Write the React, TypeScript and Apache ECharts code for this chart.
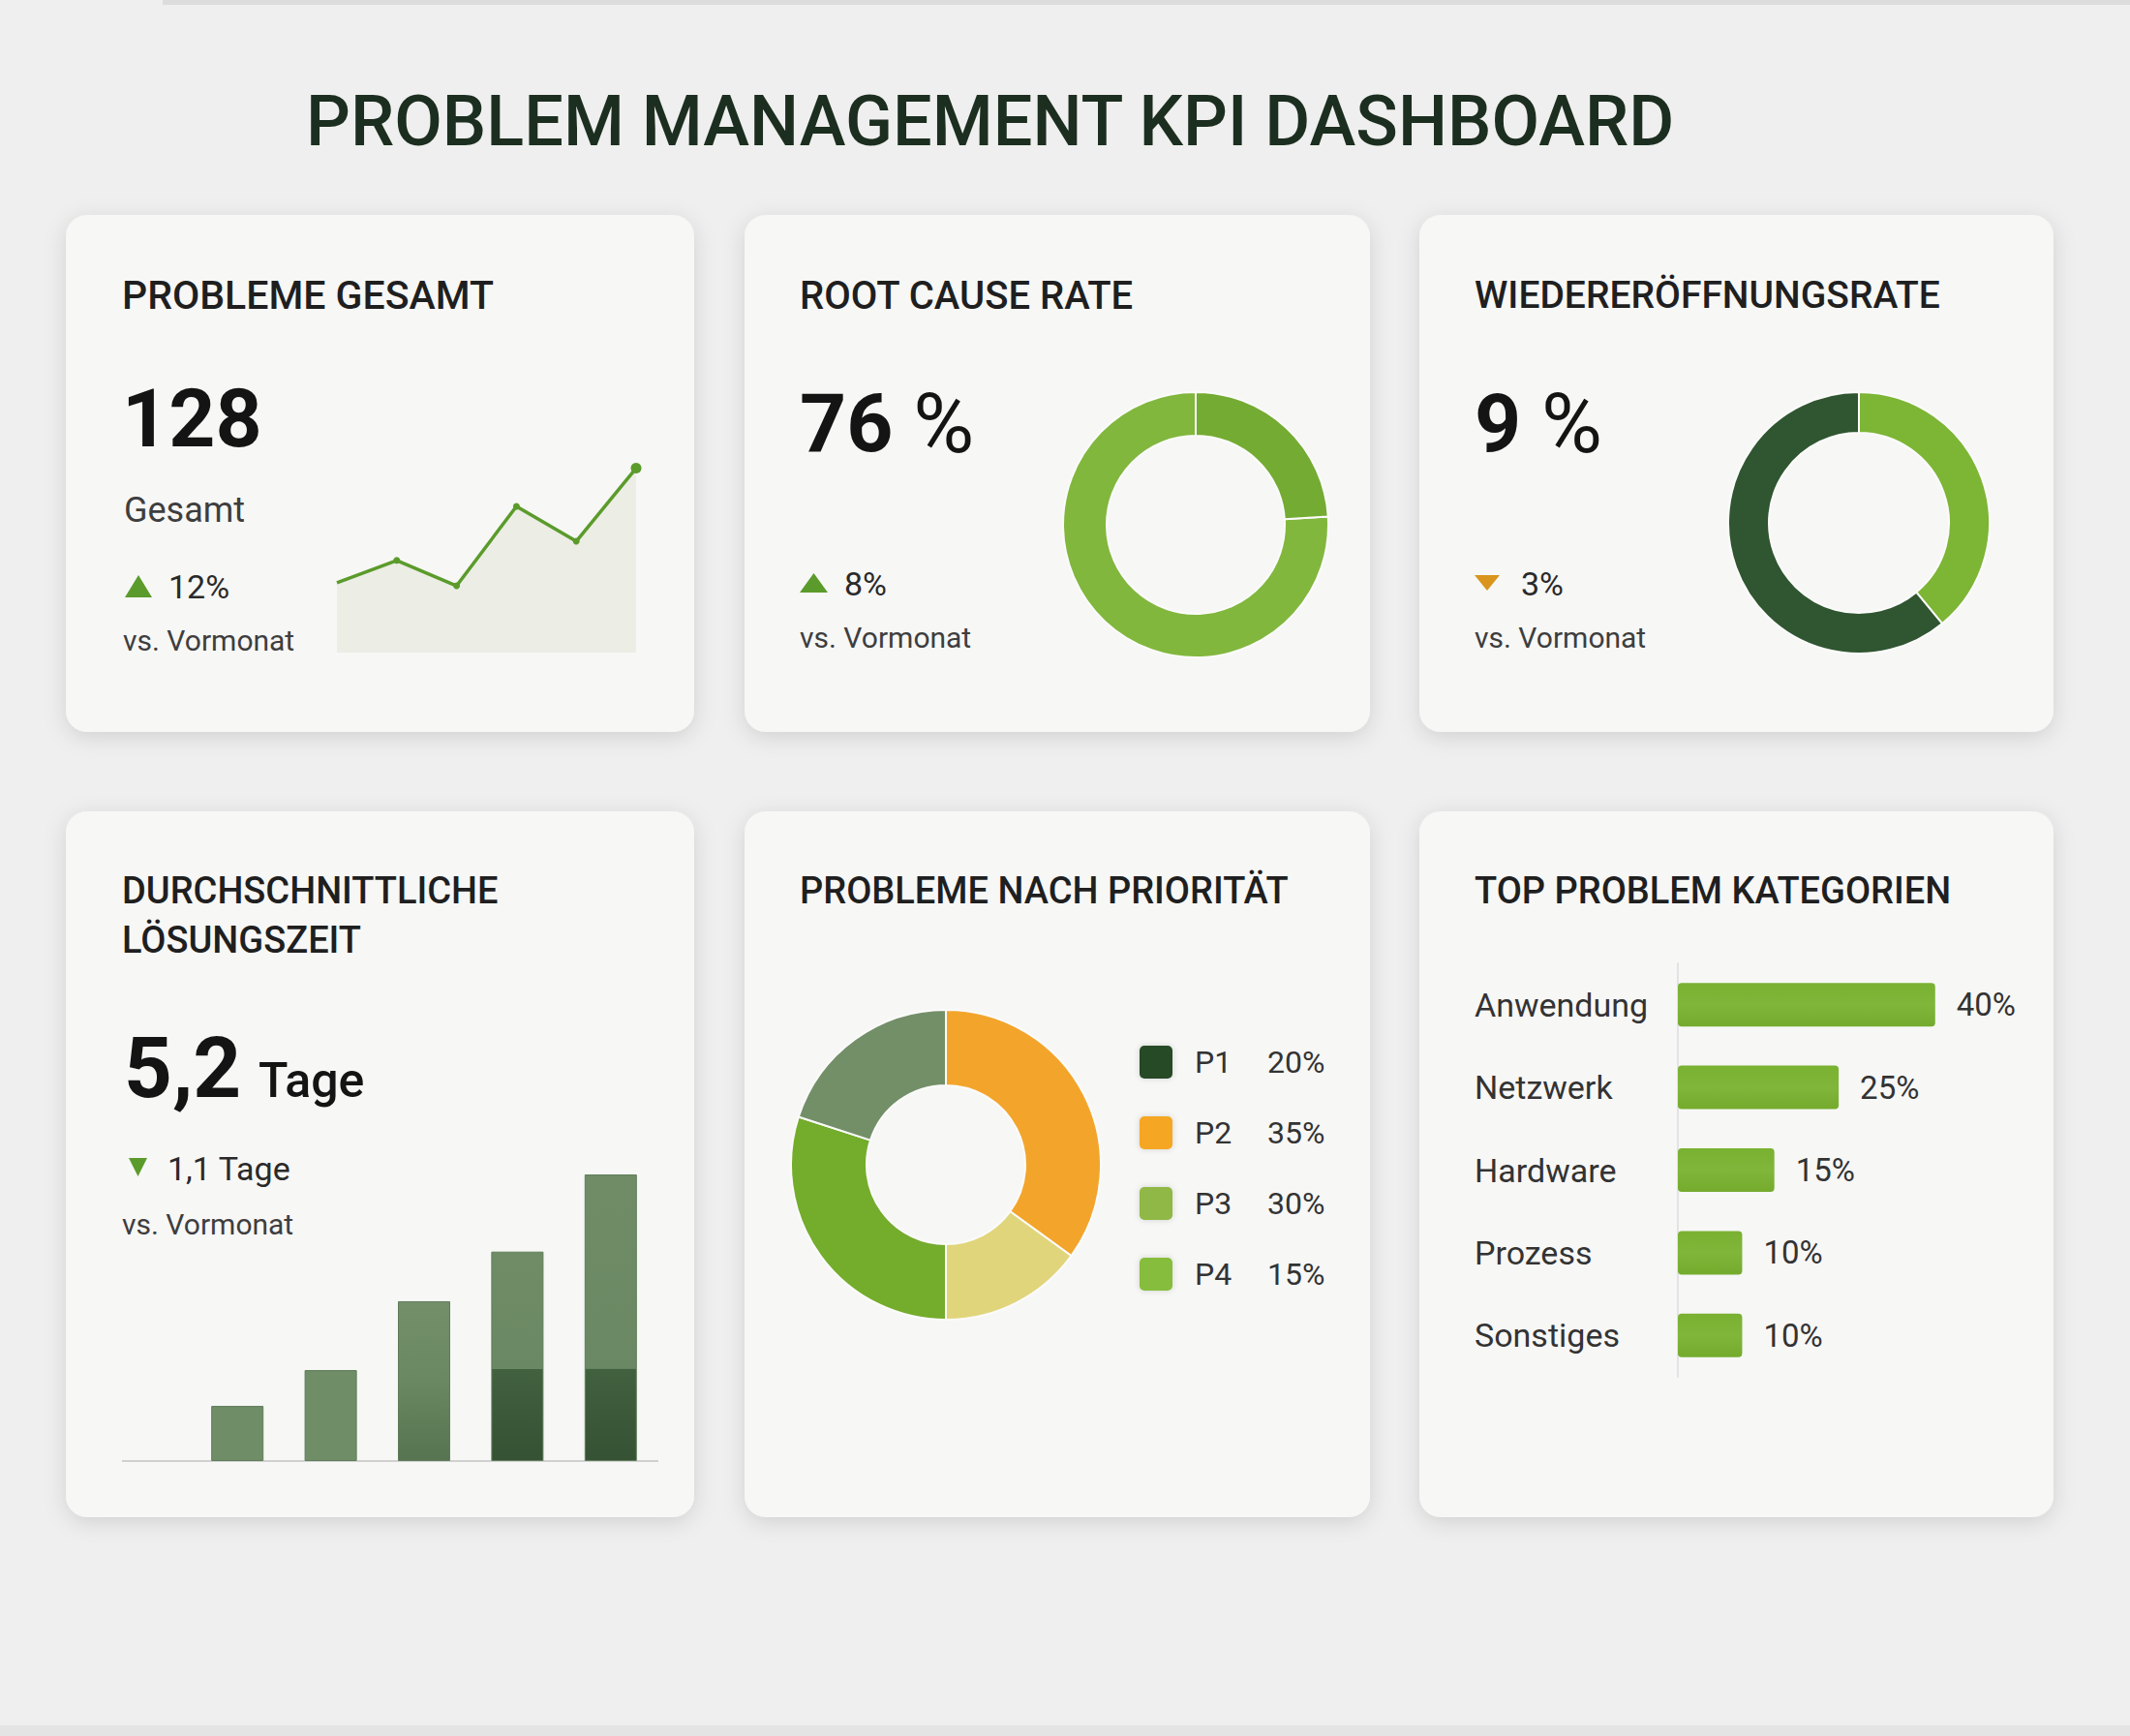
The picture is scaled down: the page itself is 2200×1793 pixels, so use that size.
import React, { useEffect, useRef } from "react";
import * as echarts from "echarts";

// ---- Data ----
const dashboardTitle = "PROBLEM MANAGEMENT KPI DASHBOARD";

const trendMonths = ["M1", "M2", "M3", "M4", "M5", "M6"];
const trendValues = [92, 99, 91, 116, 105, 128];

const rootCauseLabels = ["Mit Root Cause", "Ohne Root Cause"];
const rootCauseShares = [76, 24];

const reopenLabels = ["Anteil A", "Anteil B"];
const reopenShares = [39, 61];

const resolutionPeriods = ["Jan", "Feb", "Mär", "Apr", "Mai"];
const resolutionDays = [1.0, 1.65, 2.9, 3.8, 5.2];

const priorities = ["P1", "P2", "P3", "P4"];
const priorityShares = [20, 35, 30, 15];
// order in which the priority slices are drawn clockwise from 12 o'clock
const priorityDrawOrder = [1, 3, 2, 0];

const categories = ["Anwendung", "Netzwerk", "Hardware", "Prozess", "Sonstiges"];
const categoryShares = [40, 25, 15, 10, 10];

// ---- Styles ----
const FONT = "Roboto";
const INK = "#1f1f1f";
const SOFT = "#3e3e3e";
const GREEN = "#5b9b2b";
const ORANGE = "#d9951d";
const CARD_FILL = "#f7f7f6";

const sliceColors: Record<string, string> = {
  P1: "#738f68",
  P2: "#f3a52b",
  P3: "#74ac2c",
  P4: "#e1d57c",
};
const swatchColors: Record<string, string> = {
  P1: "#274a27",
  P2: "#f5a623",
  P3: "#8fb846",
  P4: "#86bd3e",
};

const cards = [
  { x: 68, y: 222, w: 649, h: 534 },
  { x: 769, y: 222, w: 646, h: 534 },
  { x: 1466, y: 222, w: 655, h: 534 },
  { x: 68, y: 838, w: 649, h: 729 },
  { x: 769, y: 838, w: 646, h: 729 },
  { x: 1466, y: 838, w: 655, h: 729 },
];

function text(
  x: number,
  y: number,
  str: string,
  size: number,
  weight: number | string = 400,
  fill: string = INK
) {
  return {
    type: "text",
    x,
    y,
    z: 10,
    style: {
      text: str,
      fontSize: size,
      fontWeight: weight,
      fontFamily: FONT,
      fill,
      align: "left",
      verticalAlign: "middle",
    },
  };
}

function bigValue(x: number, y: number, num: string) {
  return {
    type: "text",
    x,
    y,
    z: 10,
    style: {
      text: `{b|${num}} {r|%}`,
      fontSize: 84,
      fontFamily: FONT,
      fill: "#141414",
      verticalAlign: "middle",
      align: "left",
      rich: {
        b: { fontSize: 84, fontWeight: 700, fontFamily: FONT, fill: "#141414" },
        r: { fontSize: 86, fontWeight: 400, fontFamily: FONT, fill: "#141414" },
      },
    },
  };
}

function triangle(x0: number, x1: number, y0: number, y1: number, up: boolean, color: string) {
  const mid = (x0 + x1) / 2;
  const pts = up
    ? [[x0, y1], [x1, y1], [mid, y0]]
    : [[x0, y0], [x1, y0], [mid, y1]];
  return { type: "polygon", z: 10, shape: { points: pts }, style: { fill: color } };
}

function resolutionBarColor(v: number) {
  // darker base section for the taller bars
  const threshold = 1.67;
  if (v >= 3.5) {
    const step = 1 - threshold / v;
    return new echarts.graphic.LinearGradient(0, 0, 0, 1, [
      { offset: 0, color: "#6f8c67" },
      { offset: step - 0.001, color: "#6a8863" },
      { offset: step, color: "#42613f" },
      { offset: 1, color: "#355234" },
    ]);
  }
  if (v >= 2.5) {
    return new echarts.graphic.LinearGradient(0, 0, 0, 1, [
      { offset: 0, color: "#728f6a" },
      { offset: 0.5, color: "#6a8862" },
      { offset: 1, color: "#55744f" },
    ]);
  }
  return "#6f8d67";
}

export default function App() {
  const ref = useRef<HTMLDivElement>(null);

  useEffect(() => {
    if (!ref.current) return;
    const chart = echarts.init(ref.current, undefined, { renderer: "svg" });

    const cardGraphics = cards.map((c) => ({
      type: "rect",
      z: 0,
      shape: { x: c.x, y: c.y, width: c.w, height: c.h, r: 22 },
      style: {
        fill: CARD_FILL,
        shadowBlur: 22,
        shadowColor: "rgba(0,0,0,0.13)",
        shadowOffsetY: 5,
      },
    }));

    const legendGraphics: any[] = [];
    priorities.forEach((p, i) => {
      const cy = 1097 + i * 73;
      legendGraphics.push({
        type: "rect",
        z: 10,
        shape: { x: 1177, y: cy - 17, width: 34, height: 34, r: 5 },
        style: { fill: swatchColors[p], shadowBlur: 6, shadowColor: "rgba(0,0,0,0.15)" },
      });
      legendGraphics.push(text(1234, cy, p, 32, 400, "#333"));
      legendGraphics.push(text(1309, cy, `${priorityShares[i]}%`, 32, 400, "#333"));
    });

    const option: any = {
      animation: false,
      backgroundColor: "#efefef",
      grid: [
        { left: 348, top: 477, width: 309, height: 197 },
        { left: 197, top: 1167.5, width: 482, height: 341.5 },
        { left: 1733, top: 995, width: 299, height: 427 },
      ],
      xAxis: [
        { type: "category", gridIndex: 0, data: trendMonths, boundaryGap: false, show: false },
        {
          type: "category",
          gridIndex: 1,
          data: resolutionPeriods,
          axisLine: { show: false },
          axisTick: { show: false },
          axisLabel: { show: false },
        },
        { type: "value", gridIndex: 2, min: 0, max: 45, show: false },
      ],
      yAxis: [
        { type: "value", gridIndex: 0, min: 70, max: 130, show: false },
        { type: "value", gridIndex: 1, min: 0, max: 6, show: false },
        {
          type: "category",
          gridIndex: 2,
          data: categories,
          inverse: true,
          axisLine: { show: true, lineStyle: { color: "#e3e3e3", width: 2 } },
          axisTick: { show: false },
          axisLabel: {
            align: "left",
            margin: 210,
            fontSize: 34,
            fontFamily: FONT,
            color: "#333",
          },
        },
      ],
      series: [
        {
          type: "line",
          xAxisIndex: 0,
          yAxisIndex: 0,
          data: trendValues.map((v, i) => ({
            value: v,
            symbolSize: i === 0 ? 0 : i === trendValues.length - 1 ? 11 : 7,
          })),
          symbol: "circle",
          showSymbol: true,
          lineStyle: { color: GREEN, width: 3.5 },
          itemStyle: { color: GREEN },
          areaStyle: { color: "#ecede5", opacity: 1 },
          silent: true,
          z: 3,
        },
        {
          type: "pie",
          center: [1235, 542],
          radius: [92, 137],
          startAngle: 90,
          clockwise: false,
          silent: true,
          label: { show: false },
          itemStyle: { borderColor: "#fbfbfa", borderWidth: 2 },
          data: rootCauseShares.map((v, i) => ({
            name: rootCauseLabels[i],
            value: v,
            itemStyle: { color: i === 0 ? "#81b73d" : "#74ab32" },
          })),
        },
        {
          type: "pie",
          center: [1920, 540],
          radius: [93, 135],
          startAngle: 90,
          clockwise: true,
          silent: true,
          label: { show: false },
          itemStyle: { borderColor: "#fbfbfa", borderWidth: 2 },
          data: reopenShares.map((v, i) => ({
            name: reopenLabels[i],
            value: v,
            itemStyle: { color: i === 0 ? "#7db535" : "#2f5531" },
          })),
        },
        {
          type: "pie",
          center: [977, 1203],
          radius: [82, 160],
          startAngle: 90,
          clockwise: true,
          silent: true,
          label: { show: false },
          itemStyle: { borderColor: "#fbfbfa", borderWidth: 2 },
          data: priorityDrawOrder.map((idx) => ({
            name: priorities[idx],
            value: priorityShares[idx],
            itemStyle: { color: sliceColors[priorities[idx]] },
          })),
        },
        {
          type: "bar",
          xAxisIndex: 1,
          yAxisIndex: 1,
          barWidth: 54,
          silent: true,
          data: resolutionDays.map((v) => ({
            value: v,
            itemStyle: {
              color: resolutionBarColor(v),
              borderColor: "#5f7d58",
              borderWidth: 1,
            },
          })),
        },
        {
          type: "bar",
          xAxisIndex: 2,
          yAxisIndex: 2,
          barWidth: 45,
          silent: true,
          data: categoryShares,
          itemStyle: {
            borderRadius: 4,
            color: new echarts.graphic.LinearGradient(0, 0, 0, 1, [
              { offset: 0, color: "#79b131" },
              { offset: 0.5, color: "#80b63a" },
              { offset: 1, color: "#74ab2d" },
            ]),
          },
          label: {
            show: true,
            position: "right",
            distance: 22,
            formatter: "{c}%",
            fontSize: 33,
            fontFamily: FONT,
            color: "#333",
          },
        },
      ],
      graphic: [
        // page edges
        { type: "rect", z: 0, shape: { x: 168, y: 0, width: 2032, height: 5 }, style: { fill: "#dcdcdc" } },
        { type: "rect", z: 0, shape: { x: 0, y: 1782, width: 2200, height: 11 }, style: { fill: "#e4e4e4" } },
        ...cardGraphics,
        text(316, 125, dashboardTitle, 72, 500, "#1c2e1f"),

        // Card 1 – total problems
        text(126, 305, "PROBLEME GESAMT", 41, 500),
        text(126, 432, "128", 84, 700, "#141414"),
        text(128, 527, "Gesamt", 36, 400, SOFT),
        triangle(129, 157, 594, 617, true, GREEN),
        text(174, 606, "12%", 34, 400, "#2a2a2a"),
        text(127, 661, "vs. Vormonat", 30, 400, SOFT),

        // Card 2 – root cause rate
        text(826, 305, "ROOT CAUSE RATE", 40, 500),
        bigValue(826, 437, "76"),
        triangle(826, 855, 592, 612, true, GREEN),
        text(872, 603, "8%", 34, 400, "#2a2a2a"),
        text(826, 658, "vs. Vormonat", 30, 400, SOFT),

        // Card 3 – reopen rate
        text(1523, 305, "WIEDERERÖFFNUNGSRATE", 39, 500),
        bigValue(1523, 437, "9"),
        triangle(1523, 1549, 594, 610, false, ORANGE),
        text(1571, 603, "3%", 34, 400, "#2a2a2a"),
        text(1523, 658, "vs. Vormonat", 30, 400, SOFT),

        // Card 4 – average resolution time
        text(126, 920, "DURCHSCHNITTLICHE", 38, 500),
        text(126, 971, "LÖSUNGSZEIT", 38, 500),
        text(128, 1103, "5,2", 87, 700, "#141414"),
        text(267, 1116, "Tage", 50, 500, "#141414"),
        triangle(133, 152, 1196, 1215, false, GREEN),
        text(173, 1207, "1,1 Tage", 34, 400, "#2a2a2a"),
        text(126, 1264, "vs. Vormonat", 30, 400, SOFT),
        {
          type: "line",
          z: 1,
          shape: { x1: 126, y1: 1509, x2: 680, y2: 1509 },
          style: { stroke: "#d0d0d0", lineWidth: 2 },
        },

        // Card 5 – by priority
        text(826, 920, "PROBLEME NACH PRIORITÄT", 38, 500),
        ...legendGraphics,

        // Card 6 – top categories
        text(1523, 920, "TOP PROBLEM KATEGORIEN", 38, 500),
      ],
    };

    chart.setOption(option);
    return () => chart.dispose();
  }, []);

  return (
    <div
      ref={ref}
      style={{ position: "absolute", left: 0, top: 0, width: 2200, height: 1793 }}
    />
  );
}
